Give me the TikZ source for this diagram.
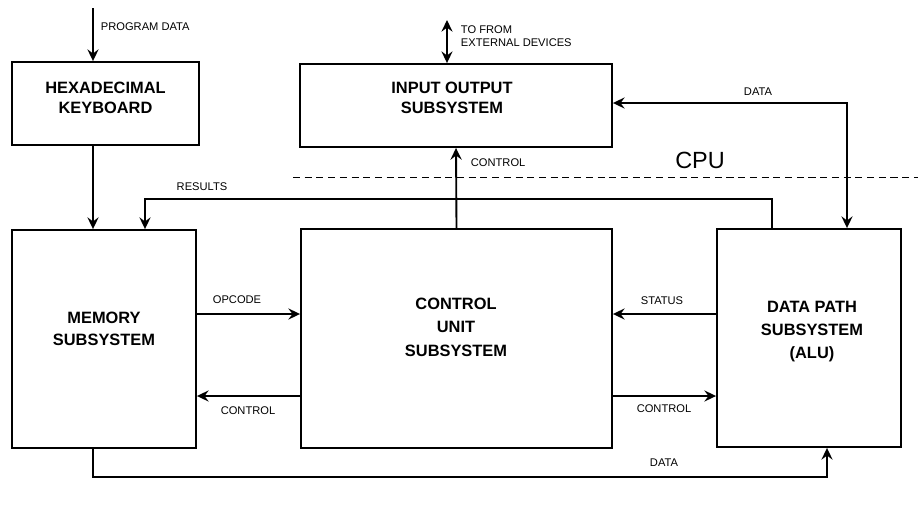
\documentclass[tikz,border=0pt]{standalone}
\usepackage{fontspec}
\setsansfont{Liberation Sans}
\usetikzlibrary{arrows.meta}

\begin{document}
\begin{tikzpicture}[x=0.3mm, y=-0.3mm, line width=1.6pt,
	box/.style={draw, shape=rectangle, inner sep=0pt},
	boxtext/.style={align=center, inner sep=0pt, font=\sffamily\bfseries\fontsize{14}{18.5}\selectfont},
	lbl/.style={font=\sffamily\fontsize{9.5}{11}\selectfont, inner sep=0pt},
	arr/.style={-{Stealth[length=10pt, width=9.5pt, inset=3.5pt]}},
	darr/.style={{Stealth[length=10pt, width=9.5pt, inset=3.5pt]}-{Stealth[length=10pt, width=9.5pt, inset=3.5pt]}}]
	\useasboundingbox (0, 0) rectangle (918, 509);
	% Boxes:
	\node[box, minimum width=56.1mm, minimum height=24.9mm] (kbd) at (105.5, 103.5){};
	\node[box, minimum width=93.6mm, minimum height=24.9mm] (io) at (456, 105.5){};
	\node[box, minimum width=55.2mm, minimum height=65.4mm] (mem) at (104, 339){};
	\node[box, minimum width=93.3mm, minimum height=65.7mm] (cu) at (456.5, 338.5){};
	\node[box, minimum width=55.2mm, minimum height=65.4mm] (alu) at (809, 338){};
	\node[boxtext, font=\sffamily\bfseries\fontsize{14}{17}\selectfont] (kbdt) at (105.5, 98){HEXADECIMAL\\KEYBOARD};
	\node[boxtext, font=\sffamily\bfseries\fontsize{14}{17}\selectfont] (iot) at (452, 98){INPUT OUTPUT\\SUBSYSTEM};
	\node[boxtext] (memt) at (104, 329){MEMORY\\SUBSYSTEM};
	\node[boxtext, font=\sffamily\bfseries\fontsize{14}{20}\selectfont] (cut) at (456, 327){CONTROL\\UNIT\\SUBSYSTEM};
	\node[boxtext, font=\sffamily\bfseries\fontsize{14}{20}\selectfont] (alut) at (812, 331.5){DATA PATH\\SUBSYSTEM\\(ALU)};
	% Free ends and bends:
	\coordinate (pd) at (93, 8);
	\coordinate (ext) at (447, 20);
	\coordinate (dio) at (847, 103);
	\coordinate (res) at (772, 199);
	\coordinate (resm) at (145, 199);
	\coordinate (op) at (250, 314);
	\coordinate (ctl) at (250, 396);
	\coordinate (db) at (93, 477);
	\coordinate (dbr) at (827, 477);
	\coordinate (cpuL) at (293, 177);
	\coordinate (cpuR) at (918, 177);
	% Connectors:
	\draw[arr] (pd) -- (pd |- kbd.north);
	\draw[arr] (kbd.south -| pd) -- (mem.north -| pd);
	\draw[darr, line width=1pt] (ext) -- (ext |- io.north);
	\draw[darr] (io.east |- dio) -- (dio) -- (dio |- alu.north);
	\draw[arr] (alu.north -| res) -- (res) -- (resm) -- (resm |- mem.north);
	\draw[arr] (cu.north) -- (io.south);
	\draw[arr] (op -| mem.east) -- (op -| cu.west);
	\draw[arr] (ctl -| cu.west) -- (ctl -| mem.east);
	\draw[arr] (op -| alu.west) -- (op -| cu.east);
	\draw[arr] (ctl -| cu.east) -- (ctl -| alu.west);
	\draw[arr] (mem.south -| db) -- (db) -- (dbr) -- (dbr |- alu.south);
	\draw[line width=0.8pt, dash pattern=on 6pt off 4pt] (cpuL) -- (cpuR);
	% Labels:
	\node[lbl, anchor=west] (lpd) at (100, 27){PROGRAM DATA};
	\node[lbl, anchor=west, align=left] (lext) at (460, 36){TO FROM\\EXTERNAL DEVICES};
	\node[lbl] (ldio) at (758, 92){DATA};
	\node[font=\sffamily\fontsize{20}{24}\selectfont] (lcpu) at (700, 160){CPU};
	\node[lbl] (lres) at (202, 187){RESULTS};
	\node[lbl, anchor=west] (lctlio) at (470, 163){CONTROL};
	\node[lbl] (lop) at (237, 300){OPCODE};
	\node[lbl] (lctlm) at (248, 411){CONTROL};
	\node[lbl] (lst) at (662, 301){STATUS};
	\node[lbl] (lctla) at (664, 409){CONTROL};
	\node[lbl] (ldb) at (664, 463){DATA};
\end{tikzpicture}
\end{document}
